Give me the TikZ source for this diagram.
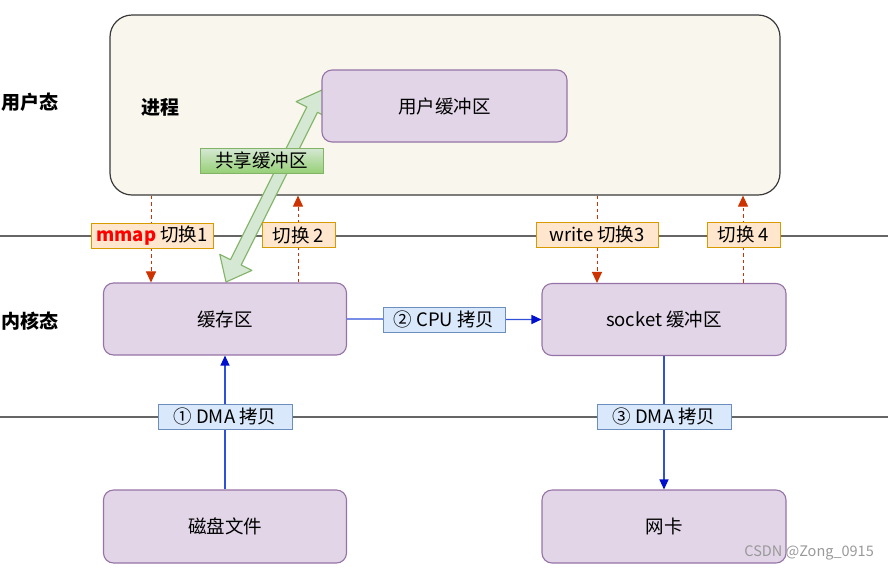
\documentclass[tikz,border=0pt]{standalone}
\usepackage{fontspec}
\setmainfont{Noto Sans CJK SC}
\usetikzlibrary{arrows.meta,calc}
\definecolor{procfill}{HTML}{F9F7ED}
\definecolor{procdraw}{HTML}{3A3A3A}
\definecolor{purfill}{HTML}{E1D5E7}
\definecolor{purdraw}{HTML}{9673A6}
\definecolor{orfill}{HTML}{FFE6CC}
\definecolor{ordraw}{HTML}{D79B00}
\definecolor{blfill}{HTML}{DAE8FC}
\definecolor{bldraw}{HTML}{6C8EBF}
\definecolor{grfill}{HTML}{D5E8D4}
\definecolor{grdraw}{HTML}{82B366}
\definecolor{grdark}{HTML}{97D077}
\definecolor{redarr}{HTML}{CC3300}
\definecolor{bluearr}{HTML}{3050D8}
\definecolor{bluetip}{HTML}{0010CC}
\definecolor{linegray}{HTML}{666666}
\tikzset{
  procbox/.style={draw=procdraw,fill=procfill,line width=1.2pt,rounded corners=22pt,minimum width=670pt,minimum height=180pt},
  purbox/.style={draw=purdraw,fill=purfill,line width=1.1pt,rounded corners=10pt,minimum width=244pt,minimum height=72pt,inner sep=0pt},
  orlabel/.style={draw=ordraw,fill=orfill,line width=1pt,minimum height=25pt,inner sep=0pt},
  bllabel/.style={draw=bldraw,fill=blfill,line width=1pt,minimum height=25pt,inner sep=0pt},
  grlabel/.style={draw=grdraw,line width=1pt,top color=grfill,bottom color=grdark,minimum height=25pt,minimum width=123pt,inner sep=0pt},
  sepline/.style={draw=linegray,line width=1.4pt},
  redflow/.style={draw=redarr,line width=1pt,dash pattern=on 3.5pt off 3pt,-{Triangle[length=11pt,width=10pt,fill=redarr,color=redarr]}},
  blueflow/.style={draw=bluearr,line width=1.3pt,-{Triangle[length=10pt,width=9pt,fill=bluetip,color=bluetip]}},
  modelabel/.style={font=\fontsize{19}{22}\selectfont\bfseries,anchor=west,inner sep=0pt},
}
\begin{document}
\begin{tikzpicture}[x=1pt,y=-1pt,font=\fontsize{18.5}{22}\selectfont]
\useasboundingbox (0,0) rectangle (888,571);
% separator lines
\coordinate (l1a) at (0,236);
\coordinate (l1b) at (888,236);
\coordinate (l2a) at (0,417);
\coordinate (l2b) at (888,417);
\draw[sepline] (l1a) -- (l1b);
\draw[sepline] (l2a) -- (l2b);
% process box
\node[procbox] (proc) at (445,105) {};
\node[modelabel] (user) at (1,102) {用户态};
\node[modelabel] (kern) at (1,321) {内核态};
\node[modelabel,anchor=center] (jc) at (160,107) {进程};
% shared buffer double arrow
\coordinate (sa) at (226,282);
\coordinate (sb) at (322,90);
\begin{scope}[shift={(sa)},rotate=63.43]
\filldraw[fill=grfill,draw=grdraw,line width=1.1pt,line join=round]
  (0,0) -- (22,18) -- (22,6) -- (192.7,6) -- (192.7,18) -- (214.7,0)
  -- (192.7,-18) -- (192.7,-6) -- (22,-6) -- (22,-18) -- cycle;
\end{scope}
% user buffer
\node[purbox,minimum width=245pt] (ubuf) at (444.5,106) {用户缓冲区};
% kernel boxes
\node[purbox,minimum width=243pt] (cache) at (225,319) {缓存区};
\node[purbox] (sock) at (664,319.5) {socket 缓冲区};
\node[purbox,minimum width=243pt,minimum height=73pt] (disk) at (225,526.5) {磁盘文件};
\node[purbox,minimum height=73pt] (nic) at (664,526.5) {网卡};
% red dashed switches
\coordinate (x1) at (151,0);
\coordinate (x2) at (298,0);
\coordinate (x3) at (597,0);
\coordinate (x4) at (743,0);
\draw[redflow] (proc.south -| x1) -- (cache.north -| x1);
\draw[redflow] (cache.north -| x2) -- (proc.south -| x2);
\draw[redflow] (proc.south -| x3) -- (sock.north -| x3);
\draw[redflow] (sock.north -| x4) -- (proc.south -| x4);
% blue copies
\draw[blueflow] (cache.east) -- (sock.west);
\draw[blueflow] (disk.north) -- (cache.south);
\draw[blueflow] (sock.south) -- (nic.north);
% labels
\node[orlabel,minimum width=122pt] (sw1) at (152,235.5) {{\bfseries\color{red}mmap}\ 切换1};
\node[orlabel,minimum width=73pt] (sw2) at (298.5,235) {切换 2};
\node[orlabel,minimum width=122pt] (sw3) at (597,234.5) {write 切换3};
\node[orlabel,minimum width=73pt] (sw4) at (743.5,234.5) {切换 4};
\node[bllabel,minimum width=122pt] (cpu) at (444,319.5) {② CPU 拷贝};
\node[bllabel,minimum width=134pt] (dma1) at (225,416.5) {① DMA 拷贝};
\node[bllabel,minimum width=134pt] (dma3) at (664,416.5) {③ DMA 拷贝};
\node[grlabel] (share) at (261.5,160.5) {共享缓冲区};
% watermark
\node[anchor=east,inner sep=0pt,text=black!40,font=\fontsize{14.5}{17}\selectfont] (wm) at (874,553) {CSDN @Zong\_0915};
\end{tikzpicture}
\end{document}
